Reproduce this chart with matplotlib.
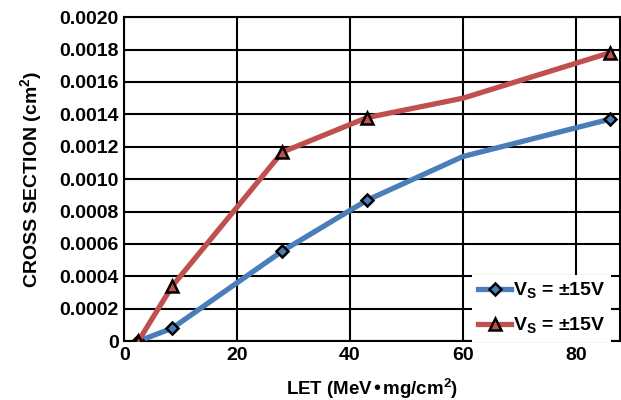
import numpy as np
import matplotlib.pyplot as plt

plt.rcParams['font.family'] = ['Liberation Sans', 'DejaVu Sans']
plt.rcParams['font.weight'] = 'bold'

# Dades
let_blau = [2.5, 8.5, 28, 43, 60, 86]
sec_blau = [0.0, 0.00008, 0.000556, 0.00087, 0.00114, 0.00137]
let_vermell = [2.5, 8.5, 28, 43, 60, 86]
sec_vermell = [0.0, 0.00034, 0.001167, 0.00138, 0.0015, 0.00178]
etiquetes = [r'V$_\mathregular{S}$ = ±15V', r'V$_\mathregular{S}$ = ±15V']
marques = [0, 1, 2, 3, 5]

fig, ax = plt.subplots(figsize=(6.21, 4.0), dpi=100)
fig.subplots_adjust(left=0.2, right=0.998, top=0.957, bottom=0.147)

ax.plot(let_blau, sec_blau, color='#4a7ebb', lw=3.8, marker='D', markevery=marques,
        markersize=6, markerfacecolor='#4a7ebb', markeredgecolor='black',
        markeredgewidth=1.8, label=etiquetes[0], zorder=3)
ax.plot(let_vermell, sec_vermell, color='#c0504d', lw=3.8, marker='^', markevery=marques,
        markersize=8, markerfacecolor='#c0504d', markeredgecolor='black',
        markeredgewidth=1.8, label=etiquetes[1], zorder=3)

ax.set_xlim(0, 87.8)
ax.set_ylim(0, 0.002)
ax.set_xticks([0, 20, 40, 60, 80])
ax.set_yticks(np.arange(0, 0.00201, 0.0002))
ax.set_yticklabels(['0'] + [f'{v:.4f}' for v in np.arange(0.0002, 0.00201, 0.0002)])
ax.grid(True, color='black', lw=1.5)
ax.set_axisbelow(True)
for s in ax.spines.values():
    s.set_linewidth(1.5)
ax.tick_params(length=0, labelsize=14, pad=4)
ax.set_xlabel('LET (MeV•mg/cm$^\\mathregular{2}$)', fontsize=13.5, fontweight='bold', labelpad=9)
ax.set_ylabel('CROSS SECTION (cm$^\\mathregular{2}$)', fontsize=14, fontweight='bold', labelpad=10)

leg = ax.legend(loc='lower right', bbox_to_anchor=(0.995, -0.02), frameon=True, fancybox=False,
                edgecolor='none', framealpha=1, fontsize=14, handlelength=1.7,
                handletextpad=0.1, labelspacing=0.75, borderpad=0.3, borderaxespad=0.3)
for t in leg.get_texts():
    t.set_fontweight('bold')

plt.savefig('out.png')
